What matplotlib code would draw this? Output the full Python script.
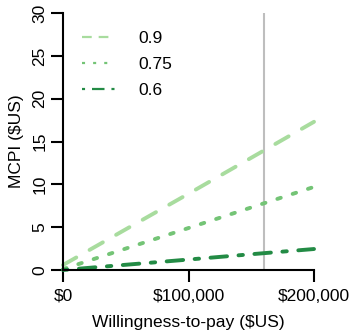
import matplotlib
matplotlib.use("Agg")
import matplotlib.pyplot as plt
from matplotlib.lines import Line2D

plt.rcParams["font.family"] = ["Liberation Sans", "DejaVu Sans"]
plt.rcParams["lines.scale_dashes"] = False

# Willingness-to-pay grid and MCPI for each threshold probability
wtp = [0, 50000, 100000, 150000, 200000]
mcpi_09 = [0.58, 4.75, 8.9, 13.1, 17.3]
mcpi_075 = [0.1, 2.5, 4.9, 7.3, 9.7]
mcpi_06 = [0.0, 0.61, 1.22, 1.84, 2.45]
labels = ["0.9", "0.75", "0.6"]
wtp_ref = 160000

x_ticks = [0, 100000, 200000]
x_ticklabels = ["$0", "$100,000", "$200,000"]
y_ticks = [0, 5, 10, 15, 20, 25, 30]

colors = ["#a8dc9e", "#74c476", "#238b45"]
plot_dashes = [(0, (11.0, 11.0)), (0, (2.6, 9.0)), (0, (3.2, 8.3, 11.9, 8.3))]
legend_dashes = [(0, (7.0, 5.0)), (0, (2.2, 5.8)), (0, (2.2, 5.0, 9.0, 5.0))]

fig = plt.figure(figsize=(3.53, 3.32), dpi=100)
ax = fig.add_axes([63 / 353, 62 / 332, 251 / 353, 257 / 332])

ax.axvline(wtp_ref, color="#bebebe", lw=1.5, zorder=1)

for ys, c, ls in zip([mcpi_09, mcpi_075, mcpi_06], colors, plot_dashes):
    ax.plot(wtp, ys, color=c, lw=2.8, linestyle=ls,
            dash_capstyle="round", zorder=2, clip_on=False)

ax.set_xlim(0, 200000)
ax.set_ylim(0, 30)
ax.set_xticks(x_ticks)
ax.set_xticklabels(x_ticklabels)
ax.set_yticks(y_ticks)
ax.set_yticklabels([str(v) for v in y_ticks], rotation=90, va="center")

for s in ["top", "right"]:
    ax.spines[s].set_visible(False)
for s in ["left", "bottom"]:
    ax.spines[s].set_linewidth(1.5)
ax.tick_params(axis="both", length=8.6, width=1.5, labelsize=12.5)
ax.tick_params(axis="x", pad=5)
ax.tick_params(axis="y", pad=2.5)

ax.set_xlabel("Willingness-to-pay ($US)", fontsize=12.5, labelpad=8)
ax.set_ylabel("MCPI ($US)", fontsize=12.5, labelpad=6)

handles = [Line2D([0], [0], color=c, lw=1.6, linestyle=ls)
           for c, ls in zip(colors, legend_dashes)]
ax.legend(handles, labels, loc="upper left", bbox_to_anchor=(0.05, 0.958),
          frameon=False, fontsize=12.5, handlelength=1.9, handletextpad=1.3,
          labelspacing=0.62, borderaxespad=0)

fig.savefig("out.png", dpi=100)
